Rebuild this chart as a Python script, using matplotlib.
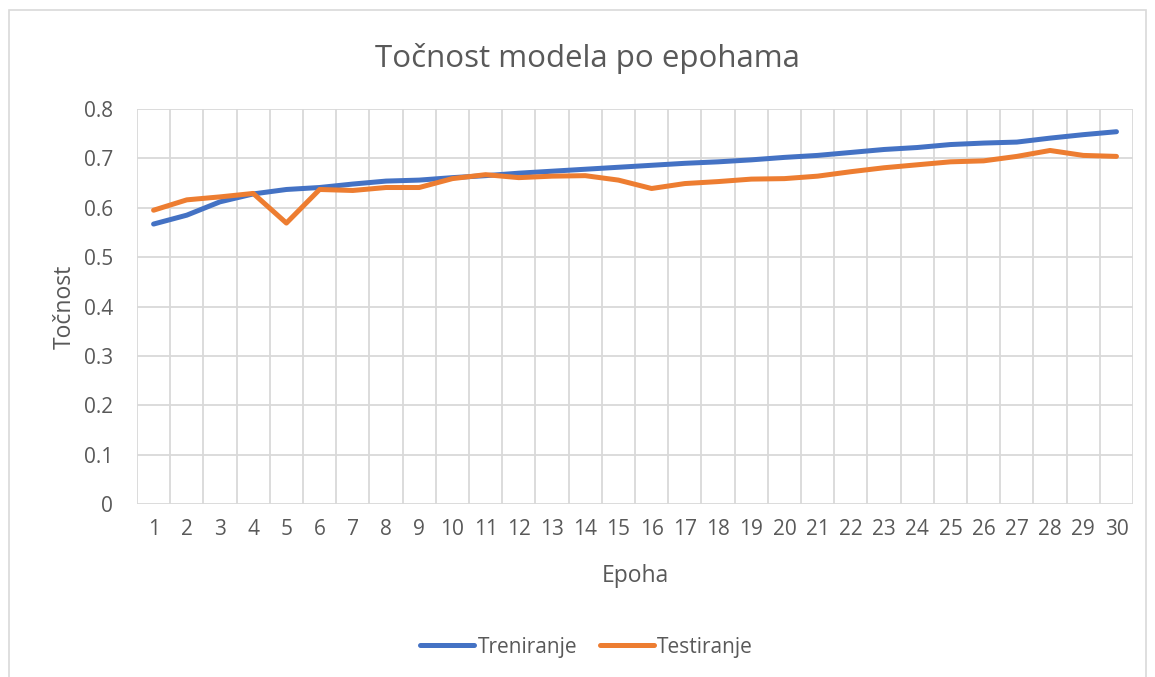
import numpy as np
import matplotlib.pyplot as plt
from matplotlib.patches import Rectangle

plt.rcParams['font.family'] = ['Open Sans', 'DejaVu Sans']

epochs = list(range(1, 31))
train_acc = [0.567, 0.585, 0.612, 0.628, 0.637, 0.641, 0.648, 0.654, 0.656, 0.661,
             0.665, 0.670, 0.674, 0.678, 0.682, 0.686, 0.690, 0.693, 0.697, 0.702,
             0.706, 0.712, 0.718, 0.722, 0.728, 0.731, 0.733, 0.741, 0.748, 0.754]
test_acc = [0.595, 0.616, 0.622, 0.629, 0.569, 0.637, 0.635, 0.641, 0.641, 0.659,
            0.667, 0.661, 0.664, 0.665, 0.656, 0.639, 0.649, 0.653, 0.658, 0.659,
            0.664, 0.673, 0.681, 0.687, 0.693, 0.695, 0.704, 0.716, 0.706, 0.704]
y_ticks = [0, 0.1, 0.2, 0.3, 0.4, 0.5, 0.6, 0.7, 0.8]
y_labels = ['0', '0.1', '0.2', '0.3', '0.4', '0.5', '0.6', '0.7', '0.8']

text_col = '#595959'
grid_col = '#d9d9d9'

fig = plt.figure(figsize=(11.55, 6.77), dpi=100)
ax = fig.add_axes([0.1186, 0.2555, 0.8624, 0.5835])

ax.plot(epochs, train_acc, color='#4472C4', lw=3.6, solid_capstyle='round', label='Treniranje', zorder=3)
ax.plot(epochs, test_acc, color='#ED7D31', lw=3.6, solid_capstyle='round', label='Testiranje', zorder=3)

ax.set_xlim(0.5, 30.5)
ax.set_ylim(0, 0.8)
ax.set_xticks(epochs)
ax.set_xticks(np.arange(0.5, 31, 1), minor=True)
ax.set_yticks(y_ticks)
ax.set_yticklabels(y_labels)
ax.grid(True, which='minor', axis='x', color=grid_col, lw=1.3)
ax.grid(True, which='major', axis='y', color=grid_col, lw=1.3)
ax.tick_params(which='both', length=0, labelsize=15, labelcolor=text_col)
ax.tick_params(axis='x', pad=11)
ax.tick_params(axis='y', pad=17)
for s in ax.spines.values():
    s.set_visible(False)

# title centred on the figure, not the axes
fig.text(587 / 1155, 1 - 59 / 677, 'Točnost modela po epohama', fontsize=22.5,
         color=text_col, ha='center', va='center')
ax.set_xlabel('Epoha', fontsize=16.5, color=text_col, labelpad=17)
ax.set_ylabel('Točnost', fontsize=16.5, color=text_col, labelpad=5)

leg = fig.legend(loc='center', bbox_to_anchor=(0.508, 0.044), ncol=2, frameon=False,
                 fontsize=15, handlelength=2.6, handletextpad=0.15, columnspacing=1.1)
for t in leg.get_texts():
    t.set_color(text_col)

fig.patches.append(Rectangle((9 / 1155, -0.01), 1137 / 1155, 1 - 10 / 677 + 0.01,
                             transform=fig.transFigure, fill=False,
                             edgecolor='#d9d9d9', lw=1.2))

fig.savefig('out.png', dpi=100)
